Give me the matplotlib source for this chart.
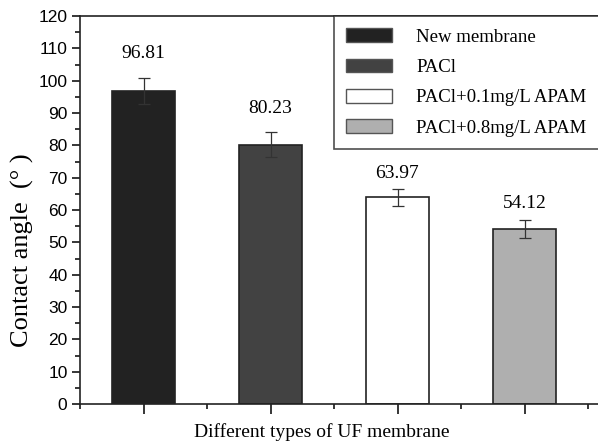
import matplotlib
matplotlib.use("Agg")
import matplotlib.pyplot as plt
from matplotlib.ticker import MultipleLocator
from matplotlib.patches import Patch

categories = ["New membrane", "PACl", "PACl+0.1mg/L APAM", "PACl+0.8mg/L APAM"]
values = [96.81, 80.23, 63.97, 54.12]
errors = [4.0, 3.9, 2.6, 2.8]
colors = ["#222222", "#424242", "#ffffff", "#afafaf"]

fig = plt.figure(figsize=(5.98, 4.46), dpi=100)
ax = fig.add_axes([80/598, 42/446, 518/598, 388/446])

x = list(range(1, len(values) + 1))
ax.bar(x, values, width=0.5, color=colors, edgecolor="#222222", linewidth=1.2,
       yerr=errors, error_kw=dict(ecolor="#333333", elinewidth=0.9, capsize=4, capthick=0.9))

label_offsets = [11.6, 11.2, 7.3, 7.8]
for xi, v, off in zip(x, values, label_offsets):
    ax.text(xi, v + off, f"{v:.2f}", ha="center", va="center",
            family="Liberation Serif", fontsize=14)

ax.set_xlim(0.5, 0.5 + 518/127)
ax.set_ylim(0, 120)
ax.yaxis.set_major_locator(MultipleLocator(10))
ax.yaxis.set_minor_locator(MultipleLocator(5))
ax.set_xticks(x)
ax.set_xticklabels([])
ax.xaxis.set_minor_locator(MultipleLocator(0.5))
ax.tick_params(axis="both", which="major", direction="out", length=6, width=1.1, labelsize=12.5, pad=3)
ax.tick_params(axis="both", which="minor", direction="out", length=3.5, width=1.1)
ax.tick_params(axis="x", which="major", length=7)
for lab in ax.get_yticklabels():
    lab.set_family("Liberation Sans")
ax.spines["right"].set_visible(False)
for s in ["left", "bottom", "top"]:
    ax.spines[s].set_linewidth(1.2)
    ax.spines[s].set_color("#222222")

ax.set_ylabel("Contact angle  (° )", family="Liberation Serif", fontsize=19, labelpad=3)
ax.yaxis.label.set_y(0.397)
ax.set_xlabel("Different types of UF membrane", family="Liberation Serif", fontsize=14, labelpad=4)
ax.xaxis.label.set_x(0.467)

handles = [Patch(facecolor=c, edgecolor="#555555", linewidth=1) for c in colors]
leg = ax.legend(handles, categories, loc="upper left", bbox_to_anchor=(254/518, 1.0),
                prop={"family": "Liberation Serif", "size": 13.5}, frameon=True, fancybox=False,
                edgecolor="#222222", handlelength=2.45, handleheight=0.75, handletextpad=1.3,
                labelspacing=0.69, borderpad=0.65, borderaxespad=0)
leg.get_frame().set_linewidth(1.2)

fig.savefig("out.png", dpi=100)
